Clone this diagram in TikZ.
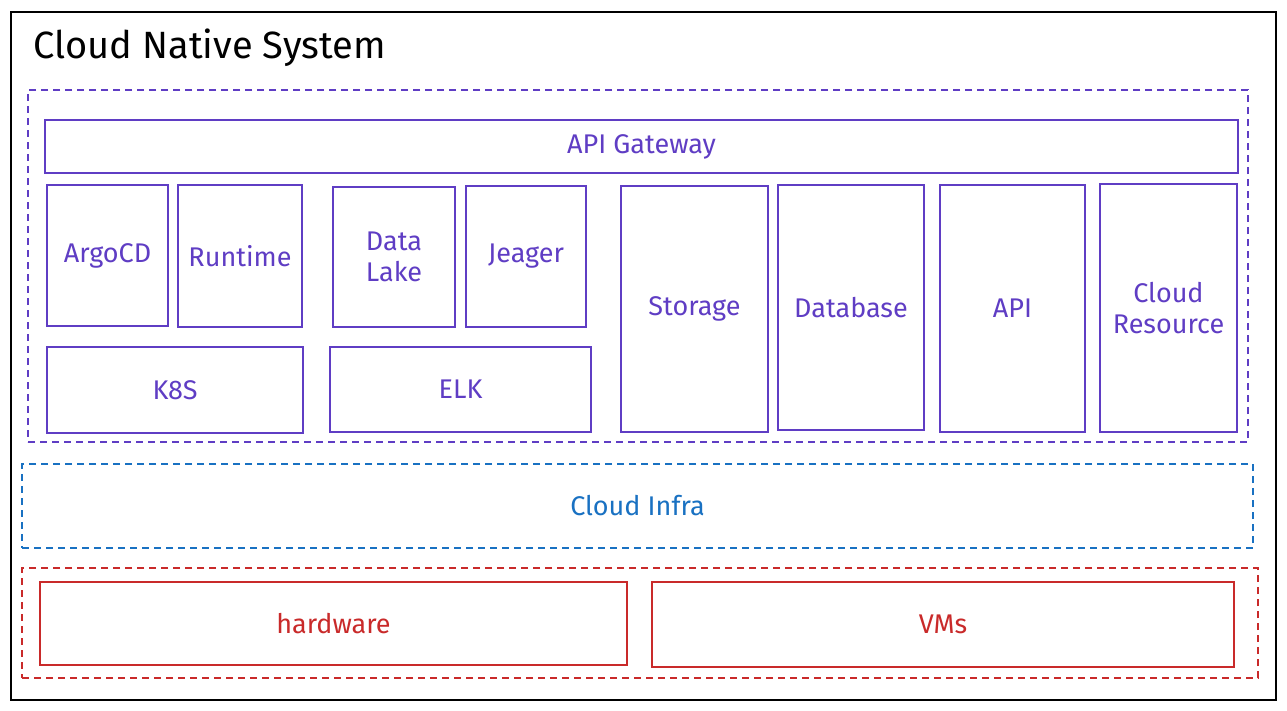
\documentclass[tikz,border=0pt]{standalone}
\usepackage{fontspec}
\setmainfont{Fira Sans}
\usepackage{tikz}

\definecolor{layerviolet}{HTML}{5F3DC4}
\definecolor{layerblue}{HTML}{1971C2}
\definecolor{layerred}{HTML}{C92A2A}

\begin{document}
\begin{tikzpicture}[x=1pt, y=-1pt,
  comp/.style={draw=layerviolet, line width=1.8pt, inner sep=0pt, align=center,
    text=layerviolet, font=\fontsize{27}{31}\selectfont},
  hw/.style={comp, draw=layerred, text=layerred},
  layer/.style={draw=#1, line width=1.5pt, dash pattern=on 7pt off 5pt, inner sep=0pt},
  label/.style={font=\fontsize{27}{31}\selectfont}]
  \useasboundingbox [fill=white] (0, 0) rectangle (1287, 710);
  \node (system) at (643.5, 356) [draw, line width=2pt, minimum width=1265, minimum height=688] {};
  \node (title) at (30, 48) [anchor=west, font=\fontsize{38}{44}\selectfont] {Cloud Native System};
  \node (platform) at (638, 266) [layer=layerviolet, minimum width=1220, minimum height=352] {};
  \node (gateway) at (641.5, 146.5) [comp, minimum width=1193, minimum height=53] {API Gateway};
  \node (argocd) at (107.5, 255.5) [comp, minimum width=121, minimum height=141] {ArgoCD};
  \node (runtime) at (240, 256) [comp, minimum width=124, minimum height=142] {Runtime};
  \node (datalake) at (394, 257) [comp, minimum width=122, minimum height=140] {Data\\Lake};
  \node (jeager) at (526, 256.5) [comp, minimum width=120, minimum height=141] {Jeager};
  \node (k8s) at (175, 390) [comp, minimum width=256, minimum height=86] {K8S};
  \node (elk) at (460.5, 389.5) [comp, minimum width=261, minimum height=85] {ELK};
  \node (storage) at (694.5, 309) [comp, minimum width=147, minimum height=246] {Storage};
  \node (database) at (851, 307.5) [comp, minimum width=146, minimum height=245] {Database};
  \node (api) at (1012.5, 308.5) [comp, minimum width=145, minimum height=247] {API};
  \node (cloudres) at (1168.5, 308) [comp, minimum width=137, minimum height=248] {Cloud\\Resource};
  \node (infra) at (637.5, 506) [layer=layerblue, minimum width=1231, minimum height=84] {};
  \node (infralabel) at (infra.center) [label, text=layerblue] {Cloud Infra};
  \node (physical) at (640, 623) [layer=layerred, minimum width=1236, minimum height=110] {};
  \node (hardware) at (333.5, 623.5) [hw, minimum width=587, minimum height=83] {hardware};
  \node (vms) at (943, 624.5) [hw, minimum width=582, minimum height=85] {VMs};
\end{tikzpicture}
\end{document}
